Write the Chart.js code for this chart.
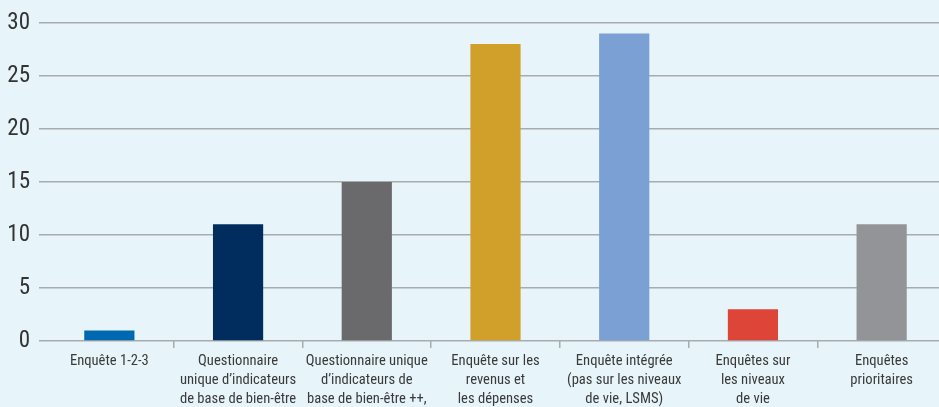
<!DOCTYPE html>
<html><head><meta charset="utf-8">
<script src="https://cdn.jsdelivr.net/npm/chart.js@4"></script>
<style>
html,body{margin:0;padding:0;overflow:hidden;background:#e7f4f9;}
#wrap{width:946px;height:407px;position:relative;}
</style></head>
<body><div id="wrap"><canvas id="c"></canvas></div>
<script>
const categories = [
  "Enquête 1-2-3",
  ["Questionnaire", "unique d’indicateurs", "de base de bien-être"],
  ["Questionnaire unique", "d’indicateurs de", "base de bien-être ++,"],
  ["Enquête sur les", "revenus et", "les dépenses"],
  ["Enquête intégrée", "(pas sur les niveaux", "de vie, LSMS)"],
  ["Enquêtes sur", "les niveaux", "de vie"],
  ["Enquêtes", "prioritaires"]
];
const values = [1, 11, 15, 28, 29, 3, 11];
const barColors = ["#0068b0", "#002c5e", "#6a696b", "#d1a02b", "#7aa0d4", "#dc4537", "#939497"];
const yTicks = [0, 5, 10, 15, 20, 25, 30];

const FONT = "'Liberation Sans Narrow', 'Roboto Condensed', 'Liberation Sans', sans-serif";
const GRID = "#a9acaf";

new Chart(document.getElementById('c'), {
  type: 'bar',
  data: { labels: categories, datasets: [{ data: values, backgroundColor: barColors, borderWidth: 0, categoryPercentage: 1, barPercentage: 0.39 }] },
  options: {
    responsive: true, maintainAspectRatio: false, animation: false,
    layout: { padding: { left: 8, top: 7, right: 0, bottom: 0 } },
    plugins: { legend: { display: false }, tooltip: { enabled: false } },
    scales: {
      x: {
        offset: true,
        grid: { offset: true, drawOnChartArea: false, drawTicks: true, tickLength: 7, lineWidth: 1.5,
                color: ctx => ctx.index === 0 ? 'rgba(0,0,0,0)' : GRID },
        border: { display: false },
        ticks: { color: '#3a3a3a', font: { family: FONT, size: 14.6, lineHeight: 1.3 }, padding: 4, maxRotation: 0, autoSkip: false },
        afterFit: s => { s.height = 66; }
      },
      y: {
        min: 0, max: 30,
        afterBuildTicks: s => { s.ticks = yTicks.map(v => ({ value: v })); },
        grid: { color: GRID, lineWidth: 1.5, tickLength: 6, drawTicks: true },
        border: { display: false },
        ticks: { color: '#333', font: { family: FONT, size: 23 }, padding: 9 },
        afterFit: s => { s.width = 37; }
      }
    }
  }
});
</script></body></html>
